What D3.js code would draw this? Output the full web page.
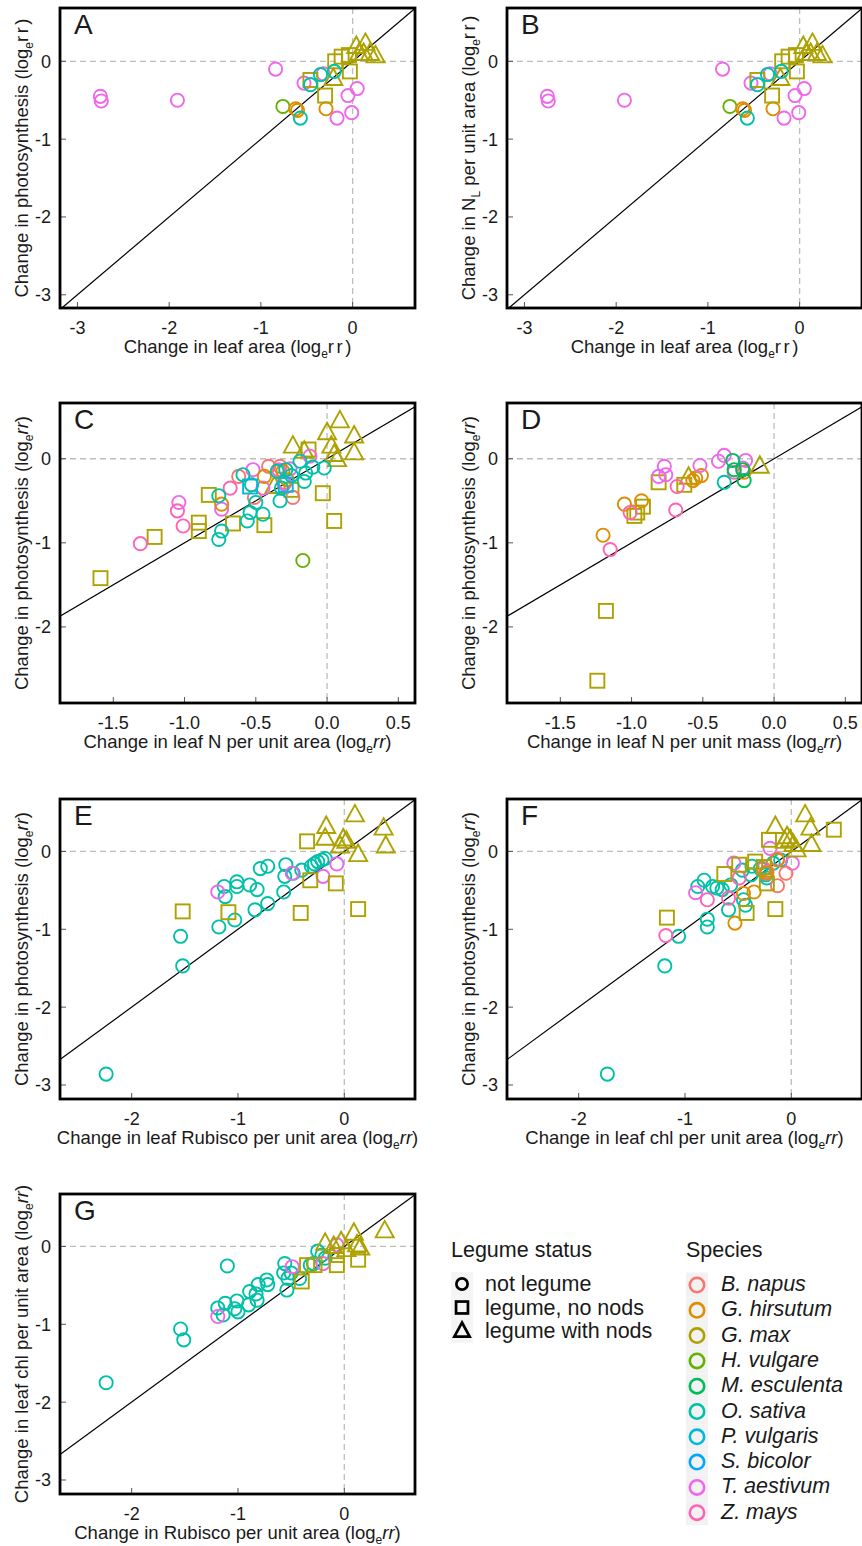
<!DOCTYPE html>
<html>
<head>
<meta charset="utf-8">
<script src="https://cdn.jsdelivr.net/npm/d3@7"></script>
<style>
  body { margin: 0; background: #fff; }
  text { font-family: "Liberation Sans", Arial, sans-serif; fill: #1a1a1a; }
</style>
</head>
<body>
<svg id="chart" width="862" height="1546"></svg>
<script>
// species and legume status (index used in the point rows below)
const species = ["B. napus", "G. hirsutum", "G. max", "H. vulgare", "M. esculenta",
  "O. sativa", "P. vulgaris", "S. bicolor", "T. aestivum", "Z. mays"];
const speciesColors = ["#F8766D", "#DB8E00", "#AEA200", "#64B200", "#00BD5C",
  "#00C1A7", "#00BADE", "#00A6FF", "#EF67EB", "#FF63B6"];
const legumeStatus = ["not legume", "legume, no nods", "legume with nods"];

// tick labels
const ticksWideX = [-3, -2, -1, 0];
const ticksWideY = [-3, -2, -1, 0];
const ticksNX = [-1.5, -1.0, -0.5, 0.0, 0.5];
const ticksNY = [-2, -1, 0];
const ticksRubX = [-2, -1, 0];
const ticksRubY = [-3, -2, -1, 0];

// rows: [x, y, species index, legume status index]
const pointsA = [
  [-2.75, -0.45, 8, 0], [-2.74, -0.51, 8, 0], [-1.91, -0.50, 8, 0], [-0.84, -0.10, 8, 0],
  [-0.53, -0.28, 8, 0], [-0.32, -0.16, 8, 0], [-0.05, -0.44, 8, 0], [0.05, -0.35, 8, 0],
  [-0.01, -0.66, 8, 0], [-0.17, -0.73, 8, 0],
  [-0.76, -0.58, 3, 0],
  [-0.62, -0.61, 1, 0], [-0.60, -0.63, 1, 0], [-0.29, -0.61, 1, 0],
  [-0.46, -0.24, 2, 1], [-0.30, -0.44, 2, 1], [-0.03, -0.13, 2, 1], [-0.19, 0.00, 2, 1],
  [-0.12, 0.06, 2, 1], [-0.04, 0.08, 2, 1],
  [-0.21, -0.22, 2, 2], [0.04, 0.19, 2, 2], [0.14, 0.23, 2, 2], [0.12, 0.10, 2, 2],
  [0.25, 0.07, 2, 2], [0.19, 0.10, 2, 2], [0.07, 0.10, 2, 2],
  [-0.57, -0.73, 5, 0], [-0.46, -0.30, 5, 0], [-0.35, -0.17, 5, 0], [-0.20, -0.13, 5, 0]
];
// panel B shows the same values as panel A in the figure
const pointsB = pointsA;

const pointsC = [
  [-1.59, -1.42, 2, 1], [-1.21, -0.93, 2, 1], [-0.90, -0.76, 2, 1], [-0.90, -0.86, 2, 1],
  [-0.83, -0.43, 2, 1], [-0.66, -0.77, 2, 1], [-0.44, -0.79, 2, 1], [-0.03, -0.41, 2, 1],
  [0.05, -0.74, 2, 1], [-0.13, 0.11, 2, 1], [-0.25, -0.37, 2, 1],
  [-0.37, -0.33, 2, 2], [0.09, 0.45, 2, 2], [0.00, 0.31, 2, 2], [0.19, 0.27, 2, 2],
  [0.19, 0.07, 2, 2], [0.03, 0.15, 2, 2], [-0.24, 0.15, 2, 2], [-0.16, 0.09, 2, 2],
  [0.05, 0.05, 2, 2], [0.07, -0.01, 2, 2],
  [-1.31, -1.01, 9, 0], [-1.05, -0.62, 9, 0], [-1.01, -0.80, 9, 0], [-0.68, -0.35, 9, 0],
  [-0.30, -0.28, 9, 0],
  [-1.04, -0.52, 8, 0], [-0.74, -0.60, 8, 0], [-0.52, -0.13, 8, 0], [-0.45, -0.35, 8, 0],
  [-0.34, -0.13, 8, 0], [-0.26, -0.12, 8, 0], [-0.12, 0.03, 8, 0], [-0.30, -0.30, 8, 0],
  [-0.62, -0.21, 0, 0], [-0.41, -0.09, 0, 0], [-0.51, -0.46, 0, 0], [-0.24, -0.46, 0, 0],
  [-0.33, -0.09, 0, 0],
  [-0.74, -0.54, 1, 0], [-0.44, -0.21, 1, 0], [-0.31, -0.15, 1, 0], [-0.28, -0.25, 1, 0],
  [-0.76, -0.44, 5, 0], [-0.76, -0.96, 5, 0], [-0.74, -0.86, 5, 0], [-0.56, -0.74, 5, 0],
  [-0.45, -0.66, 5, 0], [-0.54, -0.64, 5, 0], [-0.50, -0.52, 5, 0], [-0.33, -0.50, 5, 0],
  [-0.59, -0.19, 5, 0], [-0.53, -0.31, 5, 0], [-0.32, -0.35, 5, 0], [-0.29, -0.13, 5, 0],
  [-0.16, -0.27, 5, 0], [-0.15, -0.17, 5, 0], [-0.02, -0.11, 5, 0], [-0.19, -0.03, 5, 0],
  [-0.35, -0.15, 5, 0], [-0.25, -0.20, 5, 0], [-0.10, -0.10, 5, 0],
  [-0.54, -0.33, 6, 1], [-0.29, -0.31, 6, 1],
  [-0.17, -1.21, 3, 0]
];

const pointsD = [
  [-1.18, -1.81, 2, 1], [-1.24, -2.64, 2, 1], [-0.81, -0.28, 2, 1], [-0.92, -0.57, 2, 1],
  [-0.98, -0.68, 2, 1], [-0.96, -0.64, 2, 1], [-0.63, -0.31, 2, 1],
  [-0.60, -0.22, 2, 2], [-0.10, -0.09, 2, 2],
  [-1.20, -0.91, 1, 0], [-1.05, -0.54, 1, 0], [-0.93, -0.50, 1, 0], [-0.57, -0.26, 1, 0],
  [-0.51, -0.20, 1, 0], [-0.55, -0.23, 1, 0], [-0.21, -0.16, 1, 0],
  [-1.15, -1.08, 9, 0], [-1.01, -0.64, 9, 0], [-0.68, -0.33, 9, 0], [-0.69, -0.61, 9, 0],
  [-0.28, -0.16, 9, 0],
  [-0.77, -0.09, 8, 0], [-0.76, -0.19, 8, 0], [-0.81, -0.21, 8, 0], [-0.52, -0.08, 8, 0],
  [-0.39, -0.03, 8, 0], [-0.35, 0.04, 8, 0], [-0.20, -0.02, 8, 0], [-0.22, -0.11, 8, 0],
  [-0.29, -0.02, 4, 0], [-0.28, -0.13, 4, 0], [-0.21, -0.26, 4, 0], [-0.22, -0.13, 4, 0],
  [-0.35, -0.28, 5, 0]
];

const pointsE = [
  [-2.24, -2.86, 5, 0], [-1.54, -1.09, 5, 0], [-1.52, -1.47, 5, 0], [-1.18, -0.97, 5, 0],
  [-1.13, -0.45, 5, 0], [-1.12, -0.58, 5, 0], [-1.03, -0.88, 5, 0], [-1.01, -0.39, 5, 0],
  [-1.01, -0.45, 5, 0], [-0.89, -0.43, 5, 0], [-0.82, -0.49, 5, 0], [-0.84, -0.75, 5, 0],
  [-0.79, -0.22, 5, 0], [-0.72, -0.19, 5, 0], [-0.72, -0.67, 5, 0], [-0.57, -0.52, 5, 0],
  [-0.55, -0.17, 5, 0], [-0.56, -0.32, 5, 0], [-0.48, -0.28, 5, 0], [-0.40, -0.24, 5, 0],
  [-0.31, -0.19, 5, 0], [-0.28, -0.16, 5, 0], [-0.25, -0.13, 5, 0], [-0.21, -0.11, 5, 0],
  [-0.18, -0.09, 5, 0],
  [-1.19, -0.52, 8, 0], [-0.49, -0.28, 8, 0], [-0.20, -0.32, 8, 0], [-0.07, -0.16, 8, 0],
  [-1.52, -0.77, 2, 1], [-1.09, -0.78, 2, 1], [-0.35, 0.13, 2, 1], [-0.32, -0.37, 2, 1],
  [-0.08, -0.41, 2, 1], [-0.41, -0.79, 2, 1], [0.13, -0.74, 2, 1],
  [0.10, 0.47, 2, 2], [-0.17, 0.32, 2, 2], [-0.18, 0.17, 2, 2], [-0.01, 0.16, 2, 2],
  [0.02, 0.13, 2, 2], [-0.04, 0.07, 2, 2], [0.13, -0.04, 2, 2], [0.37, 0.30, 2, 2],
  [0.39, 0.07, 2, 2]
];

const pointsF = [
  [-1.73, -2.86, 5, 0], [-1.19, -1.47, 5, 0], [-1.06, -1.09, 5, 0], [-0.79, -0.87, 5, 0],
  [-0.79, -0.97, 5, 0], [-0.88, -0.45, 5, 0], [-0.82, -0.37, 5, 0], [-0.74, -0.45, 5, 0],
  [-0.70, -0.47, 5, 0], [-0.65, -0.49, 5, 0], [-0.57, -0.43, 5, 0], [-0.59, -0.75, 5, 0],
  [-0.45, -0.62, 5, 0], [-0.43, -0.69, 5, 0], [-0.46, -0.24, 5, 0], [-0.37, -0.19, 5, 0],
  [-0.38, -0.30, 5, 0], [-0.24, -0.30, 5, 0], [-0.23, -0.34, 5, 0], [-0.17, -0.15, 5, 0],
  [-0.10, -0.11, 5, 0], [-0.29, -0.22, 5, 0],
  [-0.90, -0.53, 8, 0], [-0.54, -0.15, 8, 0], [-0.20, 0.04, 8, 0], [0.01, -0.15, 8, 0],
  [-0.24, -0.28, 8, 0],
  [-1.18, -1.08, 9, 0], [-0.79, -0.62, 9, 0], [-0.59, -0.60, 9, 0], [-0.49, -0.34, 9, 0],
  [-0.13, -0.10, 9, 0], [-0.23, -0.26, 9, 0],
  [-0.13, -0.44, 0, 0], [-0.05, -0.28, 0, 0], [-0.26, -0.22, 0, 0],
  [-0.53, -0.92, 1, 0], [-0.45, -0.54, 1, 0], [-0.35, -0.52, 1, 0], [-0.13, -0.11, 1, 0],
  [-0.23, -0.28, 1, 0],
  [-1.17, -0.85, 2, 1], [-0.15, -0.74, 2, 1], [-0.42, -0.79, 2, 1], [-0.63, -0.29, 2, 1],
  [-0.49, -0.17, 2, 1], [-0.34, -0.13, 2, 1], [-0.21, 0.15, 2, 1], [-0.23, -0.41, 2, 1],
  [-0.26, -0.20, 2, 1], [0.40, 0.28, 2, 1],
  [0.13, 0.47, 2, 2], [-0.15, 0.32, 2, 2], [0.18, 0.30, 2, 2], [0.19, 0.09, 2, 2],
  [-0.04, 0.19, 2, 2], [-0.01, 0.15, 2, 2], [0.02, 0.09, 2, 2], [-0.06, 0.13, 2, 2],
  [0.05, 0.02, 2, 2]
];

const pointsG = [
  [-2.24, -1.75, 5, 0], [-1.54, -1.06, 5, 0], [-1.51, -1.20, 5, 0], [-1.10, -0.25, 5, 0],
  [-1.19, -0.79, 5, 0], [-1.14, -0.88, 5, 0], [-1.12, -0.73, 5, 0], [-1.03, -0.80, 5, 0],
  [-1.01, -0.70, 5, 0], [-1.00, -0.84, 5, 0], [-0.90, -0.75, 5, 0], [-0.89, -0.58, 5, 0],
  [-0.83, -0.61, 5, 0], [-0.82, -0.69, 5, 0], [-0.81, -0.49, 5, 0], [-0.73, -0.43, 5, 0],
  [-0.72, -0.49, 5, 0], [-0.56, -0.22, 5, 0], [-0.57, -0.34, 5, 0], [-0.54, -0.56, 5, 0],
  [-0.53, -0.41, 5, 0], [-0.50, -0.34, 5, 0], [-0.42, -0.41, 5, 0], [-0.32, -0.24, 5, 0],
  [-0.29, -0.22, 5, 0], [-0.25, -0.06, 5, 0], [-0.21, -0.11, 5, 0], [-0.18, -0.15, 5, 0],
  [-1.19, -0.90, 8, 0], [-0.49, -0.26, 8, 0], [-0.20, -0.22, 8, 0], [-0.07, 0.02, 8, 0],
  [-0.40, -0.45, 2, 1], [-0.35, -0.24, 2, 1], [-0.28, -0.24, 2, 1], [-0.07, -0.24, 2, 1],
  [0.13, -0.17, 2, 1], [-0.07, -0.11, 2, 1],
  [0.38, 0.20, 2, 2], [0.09, 0.17, 2, 2], [-0.03, 0.06, 2, 2], [0.12, 0.02, 2, 2],
  [0.15, -0.02, 2, 2], [-0.18, 0.04, 2, 2], [-0.10, 0.00, 2, 2], [0.02, -0.04, 2, 2]
];

// axis titles as rich-text pieces
function logLabel(start, italic) {
  return [{ t: start + " (log" }, { t: "e", sub: true }, { t: "rr", it: italic, sp: !italic }, { t: ")" }];
}

const panels = [
  { key: "A", pts: pointsA, left: 60, top: 8, xd: [-3.19, 0.68], yd: [-3.17, 0.685],
    xt: ticksWideX, yt: ticksWideY, dec: false,
    xl: logLabel("Change in leaf area", false), yl: logLabel("Change in photosynthesis", false) },
  { key: "B", pts: pointsB, left: 507, top: 8, xd: [-3.19, 0.68], yd: [-3.17, 0.685],
    xt: ticksWideX, yt: ticksWideY, dec: false,
    xl: logLabel("Change in leaf area", false),
    yl: [{ t: "Change in N" }, { t: "L", sub: true }].concat(logLabel(" per unit area", false)) },
  { key: "C", pts: pointsC, left: 60, top: 403, xd: [-1.874, 0.617], yd: [-2.905, 0.663],
    xt: ticksNX, yt: ticksNY, dec: true,
    xl: logLabel("Change in leaf N per unit area", true), yl: logLabel("Change in photosynthesis", true) },
  { key: "D", pts: pointsD, left: 507, top: 403, xd: [-1.874, 0.617], yd: [-2.905, 0.663],
    xt: ticksNX, yt: ticksNY, dec: true,
    xl: logLabel("Change in leaf N per unit mass", true), yl: logLabel("Change in photosynthesis", true) },
  { key: "E", pts: pointsE, left: 60, top: 799, xd: [-2.674, 0.665], yd: [-3.18, 0.674],
    xt: ticksRubX, yt: ticksRubY, dec: false,
    xl: logLabel("Change in leaf Rubisco per unit area", true), yl: logLabel("Change in photosynthesis", true) },
  { key: "F", pts: pointsF, left: 507, top: 799, xd: [-2.674, 0.665], yd: [-3.18, 0.674],
    xt: ticksRubX, yt: ticksRubY, dec: false,
    xl: logLabel("Change in leaf chl per unit area", true), yl: logLabel("Change in photosynthesis", true) },
  { key: "G", pts: pointsG, left: 60, top: 1194, xd: [-2.674, 0.665], yd: [-3.18, 0.674],
    xt: ticksRubX, yt: ticksRubY, dec: false,
    xl: logLabel("Change in Rubisco per unit area", true), yl: logLabel("Change in leaf chl per unit area", true) }
];

const W = 355, H = 300;
const svg = d3.select("#chart");

function rich(sel, parts) {
  var shifted = false;
  parts.forEach(function (p) {
    var ts = sel.append("tspan").text(p.t);
    if (p.sub) { ts.attr("font-size", 12).attr("dy", 5); shifted = true; }
    else if (shifted) { ts.attr("dy", -5); shifted = false; }
    if (p.it) ts.attr("font-style", "italic");
    if (p.sp) ts.attr("letter-spacing", 2.5);
  });
}

function shape(g, s, color, sw) {
  if (s === 0) {
    g.append("circle").attr("r", 6.6);
  } else if (s === 1) {
    g.append("rect").attr("x", -7).attr("y", -7).attr("width", 14).attr("height", 14);
  } else {
    g.append("path").attr("d", "M0,-10L9,6.5L-9,6.5Z");
  }
  g.selectAll("*").attr("fill", "none").attr("stroke", color).attr("stroke-width", sw);
}

function plain(d) { return String(d).replace("\u2212", "-"); }
function oneDec(d) { return d3.format(".1f")(d).replace("\u2212", "-"); }

panels.forEach(function (p) {
  var x = d3.scaleLinear().domain(p.xd).range([0, W]);
  var y = d3.scaleLinear().domain(p.yd).range([H, 0]);
  var g = svg.append("g").attr("transform", "translate(" + p.left + "," + p.top + ")");
  var fmtX = p.dec ? oneDec : plain;

  g.append("clipPath").attr("id", "clip" + p.key)
    .append("rect").attr("width", W).attr("height", H);

  // reference lines at zero
  g.append("line").attr("x1", 0).attr("x2", W).attr("y1", y(0)).attr("y2", y(0))
    .attr("stroke", "#bdbdbd").attr("stroke-width", 1.3).attr("stroke-dasharray", "6,4");
  g.append("line").attr("x1", x(0)).attr("x2", x(0)).attr("y1", 0).attr("y2", H)
    .attr("stroke", "#bdbdbd").attr("stroke-width", 1.3).attr("stroke-dasharray", "6,4");

  // 1:1 line
  var lo = Math.max(p.xd[0], p.yd[0]), hi = Math.min(p.xd[1], p.yd[1]);
  g.append("line").attr("x1", x(lo)).attr("y1", y(lo)).attr("x2", x(hi)).attr("y2", y(hi))
    .attr("stroke", "#000").attr("stroke-width", 1.2).attr("clip-path", "url(#clip" + p.key + ")");

  // ticks pointing inward
  g.selectAll(".xt").data(p.xt).enter().append("line")
    .attr("x1", function (d) { return x(d); }).attr("x2", function (d) { return x(d); })
    .attr("y1", H).attr("y2", H - 6).attr("stroke", "#555").attr("stroke-width", 1);
  g.selectAll(".yt").data(p.yt).enter().append("line")
    .attr("y1", function (d) { return y(d); }).attr("y2", function (d) { return y(d); })
    .attr("x1", 0).attr("x2", 6).attr("stroke", "#555").attr("stroke-width", 1);

  g.selectAll(".xl").data(p.xt).enter().append("text")
    .attr("x", function (d) { return x(d); }).attr("y", H + 26)
    .attr("text-anchor", "middle").attr("font-size", 18).text(fmtX);
  g.selectAll(".yl").data(p.yt).enter().append("text")
    .attr("x", -9).attr("y", function (d) { return y(d); }).attr("dy", "0.36em")
    .attr("text-anchor", "end").attr("font-size", 18).text(plain);

  // points
  var pts = g.append("g").attr("clip-path", "url(#clip" + p.key + ")");
  p.pts.forEach(function (d) {
    var m = pts.append("g").attr("transform", "translate(" + x(d[0]) + "," + y(d[1]) + ")");
    shape(m, d[3], speciesColors[d[2]], 1.9);
  });

  // frame
  g.append("rect").attr("width", W).attr("height", H)
    .attr("fill", "none").attr("stroke", "#000").attr("stroke-width", 2.8);

  g.append("text").attr("x", 14).attr("y", 26).attr("font-size", 28).text(p.key);

  rich(g.append("text").attr("x", W / 2).attr("y", H + 45).attr("text-anchor", "middle")
    .attr("font-size", 18.5), p.xl);
  rich(g.append("text").attr("transform", "translate(-32," + (H / 2) + ") rotate(-90)")
    .attr("text-anchor", "middle").attr("font-size", 18.5), p.yl);
});

// legends
var lg = svg.append("g");
lg.append("text").attr("x", 451).attr("y", 1257).attr("font-size", 21.5).text("Legume status");
legumeStatus.forEach(function (s, i) {
  var cy = 1284 + i * 23.5;
  lg.append("rect").attr("x", 451).attr("y", cy - 12).attr("width", 22).attr("height", 24).attr("fill", "#f5f5f5");
  var m = lg.append("g").attr("transform", "translate(462," + cy + ") scale(0.85)");
  shape(m, i, "#000", 3.2);
  lg.append("text").attr("x", 485).attr("y", cy + 7).attr("font-size", 21.5).text(s);
});

lg.append("text").attr("x", 686).attr("y", 1257).attr("font-size", 21.5).text("Species");
species.forEach(function (s, i) {
  var cy = 1285 + i * 25.3;
  lg.append("rect").attr("x", 686).attr("y", cy - 12.5).attr("width", 22).attr("height", 25).attr("fill", "#f2f2f2");
  lg.append("circle").attr("cx", 697).attr("cy", cy).attr("r", 7.2)
    .attr("fill", "none").attr("stroke", speciesColors[i]).attr("stroke-width", 2.6);
  lg.append("text").attr("x", 721).attr("y", cy + 6).attr("font-size", 21.5)
    .attr("font-style", "italic").text(s);
});
</script>
</body>
</html>
